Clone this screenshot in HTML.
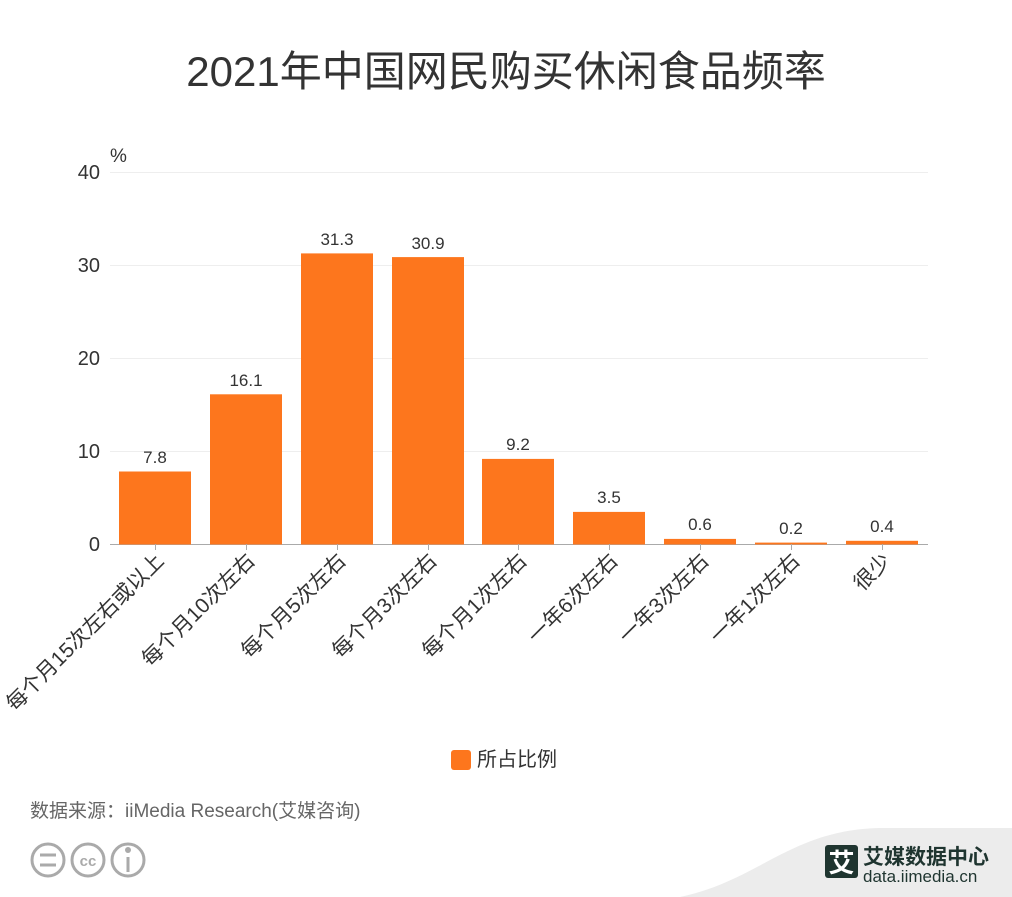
<!DOCTYPE html>
<html><head><meta charset="utf-8"><style>
body{margin:0;background:#fff;}
svg{display:block;font-family:"Liberation Sans","Noto Sans CJK SC",sans-serif;}
</style></head><body>
<svg width="1012" height="897" viewBox="0 0 1012 897">
<text x="506" y="86" text-anchor="middle" font-size="42" fill="#333">2021年中国网民购买休闲食品频率</text>
<text x="110" y="162" font-size="19" fill="#333">%</text>
<g stroke="#eee" stroke-width="1">
<line x1="110" y1="172.5" x2="928" y2="172.5"/>
<line x1="110" y1="265.5" x2="928" y2="265.5"/>
<line x1="110" y1="358.5" x2="928" y2="358.5"/>
<line x1="110" y1="451.5" x2="928" y2="451.5"/>
</g>
<g font-size="20" fill="#333" text-anchor="end">
<text x="100" y="179">40</text><text x="100" y="272">30</text><text x="100" y="365">20</text><text x="100" y="458">10</text><text x="100" y="551">0</text>
</g>
<line x1="110" y1="544.5" x2="928" y2="544.5" stroke="#aaa"/>
<g fill="#fd761d">
<rect x="119" y="471.5" width="72" height="73"/>
<rect x="210" y="394.3" width="72" height="150.2"/>
<rect x="301" y="253.4" width="72" height="291.1"/>
<rect x="392" y="257.1" width="72" height="287.4"/>
<rect x="482" y="458.9" width="72" height="85.6"/>
<rect x="573" y="511.9" width="72" height="32.6"/>
<rect x="664" y="538.9" width="72" height="5.6"/>
<rect x="755" y="542.6" width="72" height="1.9"/>
<rect x="846" y="540.8" width="72" height="3.7"/>
</g>
<g font-size="17" fill="#333" text-anchor="middle">
<text x="155" y="463">7.8</text><text x="246" y="386">16.1</text><text x="337" y="245">31.3</text><text x="428" y="249">30.9</text><text x="518" y="450">9.2</text><text x="609" y="503">3.5</text><text x="700" y="530">0.6</text><text x="791" y="534">0.2</text><text x="882" y="532">0.4</text>
</g>
<g stroke="#aaa">
<line x1="155.5" y1="544" x2="155.5" y2="550"/><line x1="246.5" y1="544" x2="246.5" y2="550"/><line x1="337.5" y1="544" x2="337.5" y2="550"/><line x1="428.5" y1="544" x2="428.5" y2="550"/><line x1="518.5" y1="544" x2="518.5" y2="550"/><line x1="609.5" y1="544" x2="609.5" y2="550"/><line x1="700.5" y1="544" x2="700.5" y2="550"/><line x1="791.5" y1="544" x2="791.5" y2="550"/><line x1="882.5" y1="544" x2="882.5" y2="550"/>
</g>
<g font-size="21" fill="#333" text-anchor="end">
<text transform="translate(165,562) rotate(-45)">每个月15次左右或以上</text>
<text transform="translate(256,562) rotate(-45)">每个月10次左右</text>
<text transform="translate(347,562) rotate(-45)">每个月5次左右</text>
<text transform="translate(438,562) rotate(-45)">每个月3次左右</text>
<text transform="translate(528,562) rotate(-45)">每个月1次左右</text>
<text transform="translate(619,562) rotate(-45)">一年6次左右</text>
<text transform="translate(710,562) rotate(-45)">一年3次左右</text>
<text transform="translate(801,562) rotate(-45)">一年1次左右</text>
<text transform="translate(892,562) rotate(-45)">很少</text>
</g>
<rect x="451" y="750" width="20" height="20" rx="3" fill="#fd761d"/>
<text x="477" y="766" font-size="20" fill="#333">所占比例</text>
<text x="30" y="817" font-size="19" fill="#666">数据来源：iiMedia Research(艾媒咨询)</text>
<g fill="none" stroke="#aaa" stroke-width="3">
<circle cx="48" cy="860" r="16"/><circle cx="88" cy="860" r="16"/><circle cx="128" cy="860" r="16"/>
<line x1="40" y1="855" x2="56" y2="855"/><line x1="40" y1="865" x2="56" y2="865"/>
<line x1="128" y1="857" x2="128" y2="872"/>
</g>
<text x="88" y="866" font-size="15" font-weight="bold" fill="#aaa" text-anchor="middle">cc</text>
<circle cx="128" cy="850" r="3" fill="#aaa"/>
<path d="M680 897 C760 880 790 830 880 828 L1012 828 L1012 897 Z" fill="#ececec"/>
<rect x="825" y="845" width="33" height="33" rx="3" fill="#1f3530"/>
<text x="841.5" y="872" font-size="26" fill="#fff" text-anchor="middle" font-weight="bold">艾</text>
<text x="863" y="864" font-size="21" font-weight="bold" fill="#1f3530">艾媒数据中心</text>
<text x="863" y="882" font-size="17" fill="#1f3530">data.iimedia.cn</text>
</svg>
</body></html>
